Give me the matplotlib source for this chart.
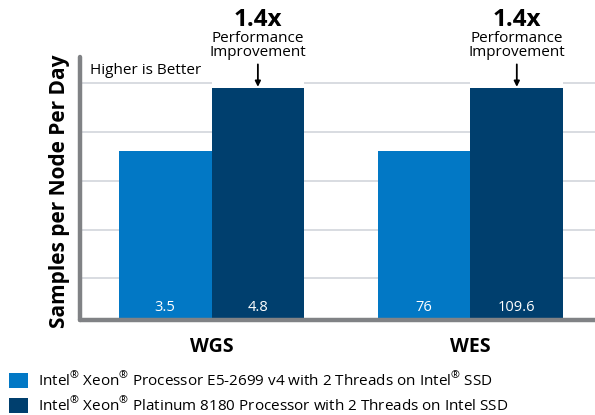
import matplotlib
matplotlib.use("Agg")
import matplotlib.pyplot as plt
import numpy as np

plt.rcParams['font.family'] = ['Open Sans', 'DejaVu Sans']
plt.rcParams['mathtext.fontset'] = 'custom'
plt.rcParams['mathtext.rm'] = 'Open Sans'

# data
groups = ['WGS', 'WES']
old_vals = [3.5, 76]          # E5-2699 v4
new_vals = [4.8, 109.6]       # Platinum 8180
# drawn heights (relative: both groups drawn alike)
old_height = [0.73, 0.73]
new_height = [1.0, 1.0]
grid_y = [0.18, 0.39, 0.60, 0.81, 1.02]
legend_labels = [
    r'Intel$^{\circledR}$ Xeon$^{\circledR}$ Processor E5-2699 v4 with 2 Threads on Intel$^{\circledR}$ SSD',
    r'Intel$^{\circledR}$ Xeon$^{\circledR}$ Platinum 8180 Processor with 2 Threads on Intel SSD',
]

light = '#0278c5'
dark = '#003f6e'
spine_col = '#808285'
grid_col = '#d5d9de'

fig = plt.figure(figsize=(5.95, 4.15), dpi=100)
ax = fig.add_axes([80 / 595, 1 - 320 / 415, 1 - 80 / 595, 263 / 415])

x = np.arange(len(groups))
w = 0.358
b1 = ax.bar(x - w / 2, old_height, w, color=light, zorder=2, label=legend_labels[0])
b2 = ax.bar(x + w / 2, new_height, w, color=dark, zorder=2, label=legend_labels[1])

ymax = 263 / 232
ax.set_ylim(0, ymax)
ax.set_xlim(-0.508, 1.481)

# keep the area above the taller bars clear for the callout
ax.bar(x + w / 2, [ymax - h for h in new_height], w, bottom=new_height,
       color='white', zorder=1.5)

ax.set_axisbelow(True)
ax.set_yticks(grid_y)
ax.set_yticklabels([])
ax.yaxis.grid(True, color=grid_col, lw=1.3)
ax.tick_params(axis='both', length=0)
ax.set_xticks(x)
ax.set_xticklabels(groups, fontsize=14, fontweight='bold')
ax.tick_params(axis='x', pad=12)

for s in ['top', 'right']:
    ax.spines[s].set_visible(False)
for s in ['left', 'bottom']:
    ax.spines[s].set_color(spine_col)
    ax.spines[s].set_linewidth(3.2)
    ax.spines[s].set_capstyle('round')
    ax.spines[s].set_zorder(3)

ax.set_ylabel('Samples per Node Per Day', fontsize=15, fontweight='bold', va='center')
ax.yaxis.set_label_coords(-0.039, 0.49)

for i in range(len(groups)):
    ax.text(x[i] - w / 2, 0.052, f'{old_vals[i]:g}', color='white', fontsize=10.5,
            ha='center', va='center', zorder=4)
    ax.text(x[i] + w / 2, 0.052, f'{new_vals[i]:g}', color='white', fontsize=10.5,
            ha='center', va='center', zorder=4)
    ratio = new_vals[i] / old_vals[i]
    xc = x[i] + w / 2
    ax.text(xc, 1.293, f'{ratio:.1f}x', fontsize=17.5, fontweight='bold',
            ha='center', va='center')
    ax.annotate('Performance\nImprovement', xy=(xc, new_height[i] + 0.005),
                xytext=(xc, 1.182), ha='center', va='center', fontsize=11,
                linespacing=0.9,
                arrowprops=dict(arrowstyle='-|>', color='black', lw=1.3,
                                mutation_scale=8, shrinkA=1, shrinkB=0))

ax.text(-0.469, 1.077, 'Higher is Better', fontsize=11, ha='left', va='center')

fig.legend(handles=[b1, b2], loc='upper left', bbox_to_anchor=(0.015, 1 - 371 / 415),
           frameon=False, fontsize=11, handlelength=1.25, handleheight=1.15,
           handletextpad=0.65, labelspacing=0.45, borderaxespad=0, borderpad=0)

fig.savefig('out.png', dpi=100)
